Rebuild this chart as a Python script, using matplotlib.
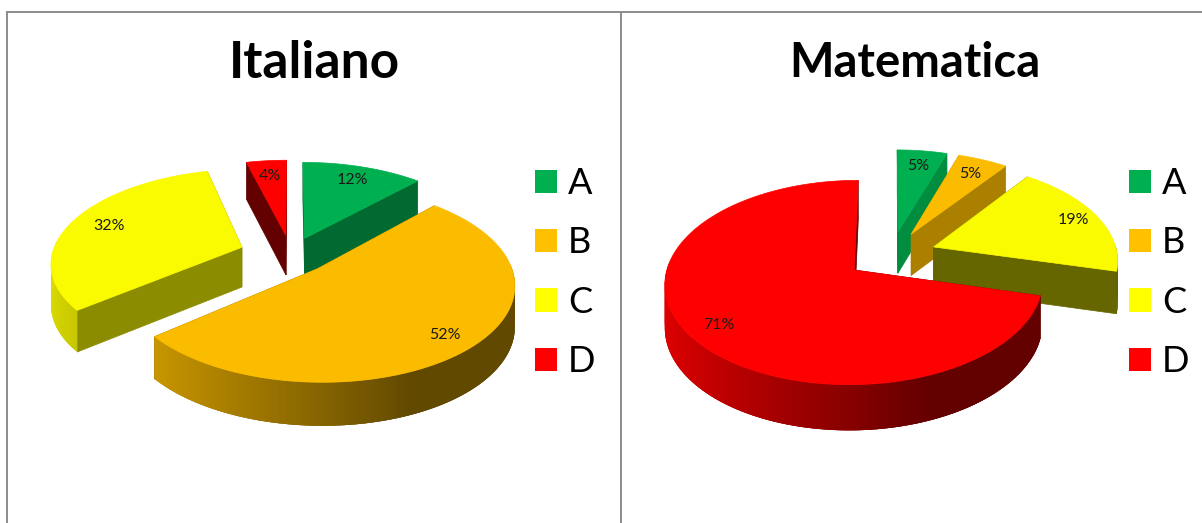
import numpy as np
import matplotlib
matplotlib.use("Agg")
import matplotlib.pyplot as plt
from matplotlib.collections import PolyCollection
from matplotlib.patches import Patch

plt.rcParams['font.family'] = ['Lato', 'DejaVu Sans']

categories = ['A', 'B', 'C', 'D']
italiano = [12, 52, 32, 4]
matematica = [5, 5, 19, 71]

colors = ['#00B050', '#FBBC00', '#FAFA00', '#FF0000']
legend_colors = ['#00B050', '#FFC000', '#FFFF00', '#FF0000']
frame_color = '#8C8C8C'


def project(u, v, cfg, drop=0.0):
    # unit disk -> screen pixels, far side smaller than near side
    s = 1 / (1 + cfg['p'] * v)
    x = cfg['cx'] + cfg['R'] * u * s
    y = cfg['cy'] - cfg['Re'] * v * s + drop * cfg['depth'] / (1 + 0.07 * v)
    return x, y


def arc_shade(u):
    # outer wall goes dark from left to right
    return np.clip(0.88 - 0.49 * (u + 1) / 1.4, 0.39, 0.88)


def darker(color, f):
    return tuple(np.array(matplotlib.colors.to_rgb(color)) * f)


def draw_pie(ax, values, cfg):
    edges = np.cumsum([0] + values) / sum(values) * 2 * np.pi
    mids = (edges[:-1] + edges[1:]) / 2
    order = np.argsort(-np.cos(mids))
    for i in order:
        a0, a1, mid = edges[i], edges[i + 1], mids[i]
        u0 = cfg['explode'][i] * np.sin(mid)
        v0 = cfg['explode'][i] * np.cos(mid)
        t = np.linspace(a0, a1, max(int((a1 - a0) * 60), 4))
        u = u0 + np.sin(t)
        v = v0 + np.cos(t)
        xt, yt = project(u, v, cfg)
        xb, yb = project(u, v, cfg, 1)
        ax_, ay_ = project(u0, v0, cfg)
        bx_, by_ = project(u0, v0, cfg, 1)

        # radial walls
        wall = darker(colors[i], cfg['wall'][i])
        for j in (0, -1):
            ax.fill([ax_, xt[j], xb[j], bx_], [ay_, yt[j], yb[j], by_],
                    fc=wall, ec=wall, lw=0.5)

        # outer wall, only the part turned to the viewer
        quads, faces = [], []
        for j in range(len(t) - 1):
            if np.cos(t[j]) < 0.05:
                k = min(j + 3, len(t) - 1)
                quads.append(list(zip(xt[j:k + 1], yt[j:k + 1])) +
                             list(zip(xb[j:k + 1][::-1], yb[j:k + 1][::-1])))
                faces.append(darker(colors[i], arc_shade(np.sin(t[j]))))
        if quads:
            ax.add_collection(PolyCollection(quads, facecolors=faces,
                                             edgecolors='none'))

        # top face
        ax.fill(np.r_[ax_, xt], np.r_[ay_, yt], fc=colors[i], ec=colors[i], lw=0.5)

        lx, ly = project(u0 + cfg['label'][i] * np.sin(mid),
                         v0 + cfg['label'][i] * np.cos(mid), cfg)
        ax.text(lx, ly, '%d%%' % values[i], ha='center', va='center',
                fontsize=11.5, color='#1a1a1a')


def panel(rect, xlim, title, title_x, title_size, values, cfg, legend_x):
    ax = fig.add_axes(rect)
    ax.set_xlim(*xlim)
    ax.set_ylim(523, 12)
    ax.set_xticks([])
    ax.set_yticks([])
    ax.spines['bottom'].set_visible(False)
    for s in ('left', 'top', 'right'):
        ax.spines[s].set_color(frame_color)
        ax.spines[s].set_linewidth(1.4)
    draw_pie(ax, values, cfg)
    ax.text(title_x, 63, title, ha='center', va='center', fontsize=title_size, fontweight='bold')
    handles = [Patch(fc=c, ec='none') for c in legend_colors]
    ax.legend(handles, categories, loc='center left', bbox_to_anchor=(legend_x, 272.5),
              bbox_transform=ax.transData, frameon=False, fontsize=26,
              handlelength=0.61, handleheight=0.61, handletextpad=0.3,
              labelspacing=0.73, borderpad=0, borderaxespad=0)


fig = plt.figure(figsize=(12.02, 5.23), dpi=100)

cfg_it = dict(cx=291, cy=255, R=190, Re=92, p=0.15, depth=40,
              explode=[0.2, 0.2, 0.275, 0.22],
              wall=[0.6, 0.5, 0.56, 0.39], label=[0.8, 0.85, 0.78, 0.78])
cfg_ma = dict(cx=891, cy=255, R=184, Re=97, p=0.12, depth=42,
              explode=[0.248, 0.248, 0.248, 0.248],
              wall=[0.8, 0.68, 0.41, 0.39], label=[0.8, 0.8, 0.85, 0.84])

panel([6.5 / 1202, 0, 614.5 / 1202, 511 / 523], (6.5, 621), 'Italiano', 314, 37,
      italiano, cfg_it, 535)
panel([621 / 1202, 0, 583 / 1202, 511 / 523], (621, 1204), 'Matematica', 915, 34,
      matematica, cfg_ma, 1129)

fig.savefig('out.png', dpi=100)
